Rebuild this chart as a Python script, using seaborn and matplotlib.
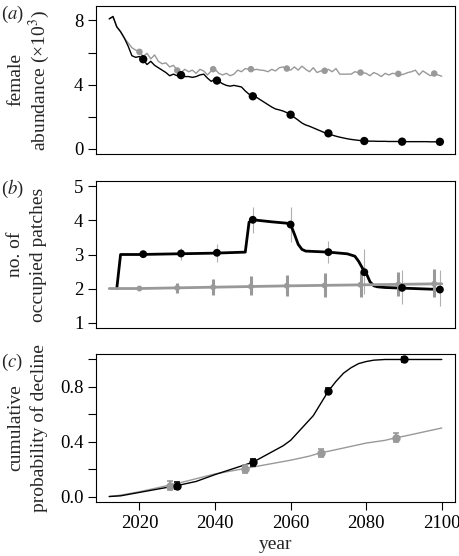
import numpy as np
import pandas as pd
import seaborn as sns
import matplotlib
matplotlib.use("Agg")
import matplotlib.pyplot as plt

# panel (a): female abundance (x10^3), annual values 2012-2100
years_a = list(range(2012, 2101))
black_a = [8.10, 8.25, 7.60, 7.30, 6.90, 6.40, 5.80, 5.70, 5.75, 5.55,
           5.25, 5.45, 5.20, 5.05, 4.90, 4.75, 4.55, 4.65, 4.55, 4.58,
           4.50, 4.50, 4.45, 4.50, 4.60, 4.65, 4.40, 4.20, 4.35, 4.20,
           4.05, 3.95, 3.90, 3.95, 3.90, 3.85, 3.60, 3.40, 3.30, 3.20,
           3.05, 2.90, 2.75, 2.60, 2.48, 2.42, 2.35, 2.25, 2.12, 1.95,
           1.78, 1.60, 1.48, 1.40, 1.30, 1.20, 1.10, 1.00, 0.95, 0.85,
           0.78, 0.72, 0.67, 0.62, 0.58, 0.55, 0.52, 0.50, 0.48, 0.47,
           0.47, 0.46, 0.46, 0.46, 0.45, 0.45, 0.45, 0.45, 0.44, 0.44,
           0.44, 0.44, 0.44, 0.44, 0.44, 0.43, 0.43, 0.43, 0.43]
grey_a = [8.10, 8.20, 7.60, 7.30, 6.90, 6.60, 6.30, 6.15, 6.05, 5.75,
          5.95, 5.60, 5.85, 5.45, 5.30, 5.35, 5.10, 5.20, 4.88, 4.75,
          4.95, 4.80, 4.90, 4.70, 4.95, 4.85, 4.60, 4.85, 4.95, 4.70,
          4.60, 4.70, 4.55, 4.65, 4.90, 4.80, 5.00, 4.95, 4.90, 4.95,
          4.90, 4.88, 4.80, 4.95, 4.85, 5.05, 5.10, 4.98, 4.90, 5.10,
          4.90, 5.15, 4.95, 4.80, 5.05, 4.75, 4.85, 4.86, 4.95, 4.80,
          5.00, 4.65, 4.65, 4.65, 4.65, 4.80, 4.75, 4.75, 4.70, 4.55,
          4.75, 4.65, 4.50, 4.70, 4.60, 4.70, 4.67, 4.60, 4.65, 4.75,
          4.80, 4.90, 4.60, 4.85, 4.70, 4.55, 4.69, 4.60, 4.52]
black_pts_years = [2021, 2031, 2040.5, 2050, 2060, 2070, 2079.5, 2089.5, 2099.5]
grey_pts_years = [2020, 2030, 2039.5, 2049.5, 2059, 2069, 2078.5, 2088.5, 2098]
black_a_pts = [5.58, 4.59, 4.25, 3.27, 2.12, 0.96, 0.48, 0.44, 0.43]
grey_a_pts = [6.04, 4.88, 4.96, 4.96, 5.00, 4.86, 4.75, 4.67, 4.69]

# panel (b): number of occupied patches
black_b_years = [2014, 2015, 2020, 2030, 2040, 2048, 2049, 2050, 2055, 2059,
                 2060, 2061, 2062, 2063, 2064, 2066, 2070, 2075, 2077, 2078,
                 2079, 2080, 2081, 2082, 2083, 2085, 2090, 2095, 2100]
black_b = [2.0, 3.0, 3.0, 3.02, 3.04, 3.07, 3.95, 4.02, 3.96, 3.92,
           3.88, 3.6, 3.3, 3.15, 3.1, 3.09, 3.07, 3.02, 2.95, 2.8,
           2.6, 2.45, 2.2, 2.08, 2.05, 2.03, 2.01, 1.99, 1.97]
grey_b_years = [2012, 2020, 2040, 2060, 2080, 2100]
grey_b = [2.0, 2.0, 2.04, 2.08, 2.11, 2.14]
black_b_pts = [3.01, 3.03, 3.05, 4.02, 3.88, 3.07, 2.48, 2.02, 1.97]
black_b_lo = [3.0, 2.85, 2.78, 3.62, 3.38, 2.75, 1.85, 1.55, 1.5]
black_b_hi = [3.02, 3.2, 3.3, 4.4, 4.4, 3.4, 3.15, 2.55, 2.55]
grey_b_pts = [2.0, 2.02, 2.04, 2.06, 2.08, 2.09, 2.11, 2.12, 2.14]
grey_b_lo = [2.0, 1.86, 1.8, 1.8, 1.78, 1.76, 1.76, 1.78, 1.76]
grey_b_hi = [2.0, 2.17, 2.27, 2.36, 2.41, 2.46, 2.5, 2.5, 2.56]

# panel (c): cumulative probability of decline
black_c_years = [2012, 2015, 2020, 2025, 2030, 2035, 2040, 2045, 2050, 2052,
                 2054, 2056, 2058, 2060, 2062, 2064, 2066, 2068, 2070, 2072,
                 2074, 2076, 2078, 2080, 2082, 2085, 2090, 2095, 2100]
black_c = [0.0, 0.005, 0.03, 0.055, 0.08, 0.11, 0.16, 0.205, 0.25, 0.28,
           0.31, 0.34, 0.37, 0.41, 0.47, 0.53, 0.59, 0.68, 0.77, 0.84,
           0.90, 0.94, 0.97, 0.985, 0.995, 1.0, 1.0, 1.0, 1.0]
grey_c_years = [2012, 2015, 2020, 2025, 2028, 2030, 2035, 2040, 2045, 2048,
                2050, 2055, 2060, 2065, 2068, 2070, 2075, 2080, 2085, 2088,
                2090, 2095, 2100]
grey_c = [0.0, 0.01, 0.035, 0.065, 0.084, 0.095, 0.13, 0.165, 0.19, 0.205,
          0.215, 0.24, 0.265, 0.295, 0.32, 0.33, 0.36, 0.39, 0.41, 0.43,
          0.44, 0.47, 0.50]
black_c_pts_years = [2030, 2050, 2070, 2090]
black_c_pts = [0.08, 0.25, 0.77, 1.0]
black_c_err = [0.025, 0.025, 0.02, 0.015]
grey_c_pts_years = [2028, 2048, 2068, 2088]
grey_c_pts = [0.08, 0.20, 0.32, 0.43]
grey_c_err = [0.03, 0.03, 0.03, 0.03]

GREY = "#999999"

sns.set_theme(style="ticks")
plt.rcParams["font.family"] = ["Liberation Serif", "DejaVu Serif"]
plt.rcParams["mathtext.fontset"] = "stix"

W, H = 460, 556
fig = plt.figure(figsize=(W / 100, H / 100), dpi=100)


def make_axes(top, bottom):
    return fig.add_axes([96 / W, (H - bottom) / H, 359 / W, (bottom - top) / H])


ax_a = make_axes(6, 154)
ax_b = make_axes(181, 328)
ax_c = make_axes(354, 502)

for ax in (ax_a, ax_b, ax_c):
    ax.set_xlim(2008.5, 2103.5)
    for s in ax.spines.values():
        s.set_visible(True)
        s.set_linewidth(0.8)
        s.set_color("black")
    ax.tick_params(direction="out", length=6, width=0.8, labelsize=13.5,
                   pad=3, colors="black", top=False, right=False)

# (a)
sns.lineplot(x=years_a, y=grey_a, ax=ax_a, color=GREY, lw=1.0, estimator=None)
sns.lineplot(x=years_a, y=black_a, ax=ax_a, color="black", lw=1.0, estimator=None)
sns.scatterplot(x=grey_pts_years, y=grey_a_pts, ax=ax_a, color=GREY, s=22,
                edgecolor="none", zorder=3)
sns.scatterplot(x=black_pts_years, y=black_a_pts, ax=ax_a, color="black", s=36,
                edgecolor="none", zorder=4)
ax_a.set_ylim(-0.33, 8.9)
ax_a.set_yticks([0, 2, 4, 6, 8])
ax_a.set_yticklabels(["0", "", "4", "", "8"])
ax_a.set_xticks([])

# (b)
ax_b.vlines(black_pts_years, black_b_lo, black_b_hi, color="#b0b0b0", lw=0.8, zorder=1)
sns.lineplot(x=black_b_years, y=black_b, ax=ax_b, color="black", lw=2.0, estimator=None)
ax_b.vlines(grey_pts_years, grey_b_lo, grey_b_hi, color=GREY, lw=2.2, zorder=2)
sns.lineplot(x=grey_b_years, y=grey_b, ax=ax_b, color=GREY, lw=2.0, estimator=None)
sns.scatterplot(x=grey_pts_years, y=grey_b_pts, ax=ax_b, color=GREY, s=18,
                edgecolor="none", zorder=3)
sns.scatterplot(x=black_pts_years, y=black_b_pts, ax=ax_b, color="black", s=32,
                edgecolor="none", zorder=4)
ax_b.set_ylim(0.84, 5.16)
ax_b.set_yticks([1, 2, 3, 4, 5])
ax_b.set_xticks([])

# (c)
sns.lineplot(x=grey_c_years, y=grey_c, ax=ax_c, color=GREY, lw=1.0, estimator=None)
sns.lineplot(x=black_c_years, y=black_c, ax=ax_c, color="black", lw=1.0, estimator=None)
ax_c.errorbar(grey_c_pts_years, grey_c_pts, yerr=grey_c_err, fmt="o", color=GREY,
              ms=5, elinewidth=1.5, capsize=2, capthick=1.2, zorder=3)
ax_c.errorbar(black_c_pts_years, black_c_pts, yerr=black_c_err, fmt="o", color="black",
              ms=5, elinewidth=1.5, capsize=2, capthick=1.2, zorder=4)
ax_c.set_ylim(-0.04, 1.04)
ax_c.set_yticks([0, 0.2, 0.4, 0.6, 0.8, 1.0])
ax_c.set_yticklabels(["0.0", "", "0.4", "", "0.8", ""])
ax_c.set_xticks([2020, 2040, 2060, 2080, 2100])
ax_c.set_xlabel("year", fontsize=14, labelpad=3)

for ax in (ax_a, ax_b, ax_c):
    ax.set_ylabel("")

# y labels (two lines each) and panel letters
label_lines = [("female", "abundance (×10$^3$)"),
               ("no. of", "occupied patches"),
               ("cumulative", "probability of decline")]
centers = [80, 254.5, 428]
letters = ["a", "b", "c"]
letter_y = [14, 189, 362]
for (l1, l2), cy, let, ly in zip(label_lines, centers, letters, letter_y):
    fig.text(16 / W, 1 - cy / H, l1, rotation=90, ha="center", va="center",
             fontsize=14)
    fig.text(39 / W, 1 - cy / H, l2, rotation=90, ha="center", va="center",
             fontsize=14)
    fig.text(1 / W, 1 - ly / H, "($\\mathit{" + let + "}$)", ha="left", va="center",
             fontsize=13.5)

fig.savefig("out.png", dpi=100)
